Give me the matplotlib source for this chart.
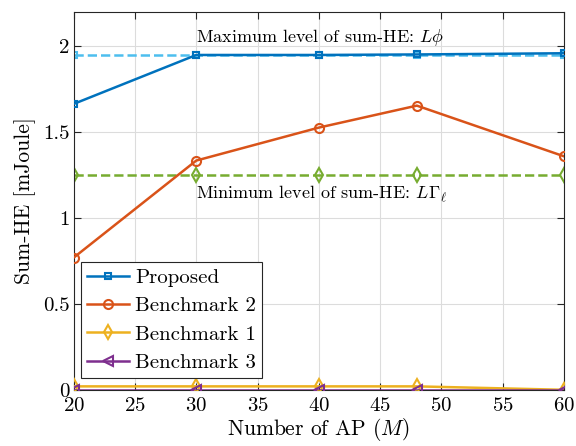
import matplotlib
matplotlib.use("Agg")
import matplotlib.pyplot as plt
import numpy as np

# data
ap = [20, 30, 40, 48, 60]
proposed = [1.665, 1.95, 1.95, 1.953, 1.96]
bench2 = [0.77, 1.335, 1.527, 1.655, 1.36]
bench1 = [0.02, 0.02, 0.02, 0.02, 0.0]
bench3 = [0.0, 0.0, 0.0, 0.0, 0.0]
max_level = [1.95, 1.95, 1.95, 1.95, 1.95]
min_level = [1.25, 1.25, 1.25, 1.25, 1.25]

plt.rcParams['font.family'] = 'serif'
plt.rcParams['font.serif'] = ['cmr10']
plt.rcParams['mathtext.fontset'] = 'cm'
plt.rcParams['axes.formatter.use_mathtext'] = True

c_blue = '#0072BD'
c_orange = '#D95319'
c_yellow = '#EDB120'
c_purple = '#7E2F8E'
c_green = '#77AC30'
c_light = '#4DBEEE'

fig = plt.figure(figsize=(5.76, 4.46), dpi=100)
ax = fig.add_axes([0.128, 0.126, 0.851, 0.847])

ax.plot(ap, max_level, '--s', color=c_light, lw=1.8, ms=5, mfc='none', mew=1.5, zorder=2)
ax.plot(ap, min_level, '--d', color=c_green, lw=1.8, ms=7, mfc='none', mew=1.5, zorder=2)
ax.plot(ap, proposed, '-s', color=c_blue, lw=1.8, ms=5, mfc='none', mew=1.5, label='Proposed', zorder=3)
ax.plot(ap, bench2, '-o', color=c_orange, lw=1.8, ms=6.5, mfc='none', mew=1.5, label='Benchmark 2', zorder=3)
ax.plot(ap, bench1, '-d', color=c_yellow, lw=1.8, ms=7, mfc='none', mew=1.5, label='Benchmark 1', zorder=3)
ax.plot(ap, bench3, '-<', color=c_purple, lw=1.8, ms=7, mfc='none', mew=1.5, label='Benchmark 3', zorder=3)

ax.text(30, 2.05, r'Maximum level of sum-HE: $L\phi$', fontsize=13, va='center', ha='left')
ax.text(30, 1.145, r'Minimum level of sum-HE: $L\Gamma_\ell$', fontsize=13, va='center', ha='left')

ax.set_xlim(20, 60)
ax.set_ylim(0, 2.2)
ax.set_xticks(np.arange(20, 61, 5))
ax.set_yticks([0, 0.5, 1, 1.5, 2])
ax.set_yticklabels(['0', '0.5', '1', '1.5', '2'])
ax.set_xlabel(r'Number of AP ($M$)', fontsize=15.5, labelpad=1)
ax.set_ylabel('Sum-HE [mJoule]', fontsize=15.5, labelpad=5)
ax.tick_params(direction='in', top=True, right=True, labelsize=15, length=5, color='#262626', pad=3)
ax.tick_params(axis='x', pad=5)
ax.grid(True, color='#dcdcdc', lw=0.8)
for s in ax.spines.values():
    s.set_color('#262626')
    s.set_linewidth(0.8)

leg = ax.legend(loc='lower left', bbox_to_anchor=(0.002, 0.014), fontsize=15, fancybox=False,
                framealpha=1, edgecolor='#262626', handlelength=2.0, borderpad=0.3,
                labelspacing=0.47, handletextpad=0.3, borderaxespad=0.3)
leg.get_frame().set_linewidth(0.8)

fig.savefig('out.png', dpi=100)
